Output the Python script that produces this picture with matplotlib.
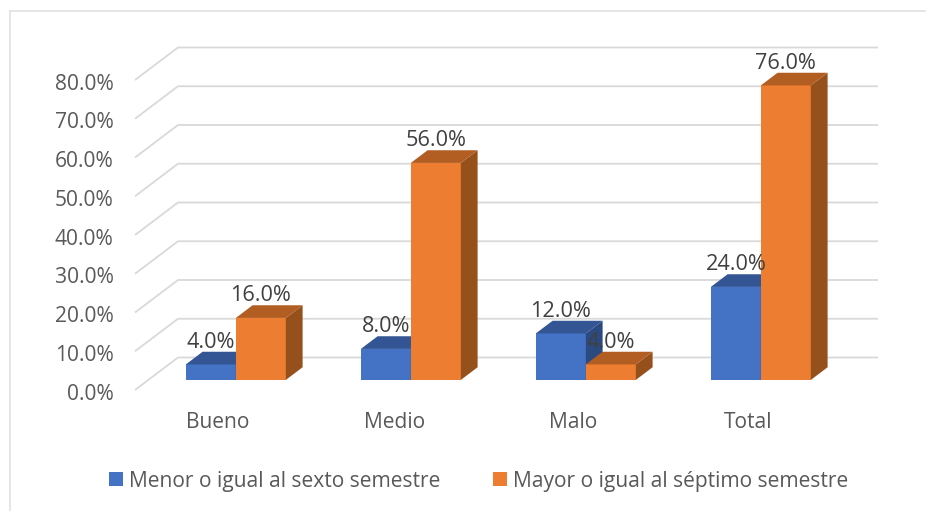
import matplotlib
matplotlib.use("Agg")
import matplotlib.pyplot as plt
from matplotlib.lines import Line2D
from matplotlib.patches import Patch, Polygon
from matplotlib.transforms import ScaledTranslation

categories = ["Bueno", "Medio", "Malo", "Total"]
menor = [4.0, 8.0, 12.0, 24.0]
mayor = [16.0, 56.0, 4.0, 76.0]
y_ticks = [0, 10, 20, 30, 40, 50, 60, 70, 80]
series_names = ["Menor o igual al sexto semestre", "Mayor o igual al séptimo semestre"]

W, H = 926, 511
FS = 15.1
plt.rcParams["font.family"] = ["Open Sans", "DejaVu Sans"]
fig = plt.figure(figsize=(W / 100, H / 100), dpi=100, facecolor="white")
ax = fig.add_axes([135 / W, (H - 390) / H, 700 / W, 310 / H])
ax.set_xlim(-0.5, 3.5)
ax.set_ylim(0, 80)
for s in ax.spines.values():
    s.set_visible(False)
ax.patch.set_alpha(0)

# oblique projection: depth 0 = front plane, 1 = back wall
DX = 43 / 175
DY = 32.5 / 3.875
BAR_D0, BAR_D = 0.31, 0.39
BAR_W = 50 / 175
GRID = "#D9D9D9"


def proj(x, y, d):
    return x + d * DX, y + d * DY


for v in y_ticks:
    xs, ys = zip(proj(-0.5, v, 0), proj(-0.5, v, 1), proj(3.5, v, 1))
    ax.plot(xs, ys, color=GRID, lw=1.3, clip_on=False, zorder=1, solid_capstyle="butt")


def bar3d(x, v, face, top, side, z):
    x0, y0 = proj(x, 0, BAR_D0)
    ax.bar(x0, v, BAR_W, bottom=y0, align="edge", color=face, lw=0, zorder=z, clip_on=False)
    corners_top = [proj(x, v, BAR_D0), proj(x + BAR_W, v, BAR_D0),
                   proj(x + BAR_W, v, BAR_D0 + BAR_D), proj(x, v, BAR_D0 + BAR_D)]
    corners_side = [proj(x + BAR_W, 0, BAR_D0), proj(x + BAR_W, v, BAR_D0),
                    proj(x + BAR_W, v, BAR_D0 + BAR_D), proj(x + BAR_W, 0, BAR_D0 + BAR_D)]
    ax.add_patch(Polygon(corners_side, closed=True, fc=side, ec="none", zorder=z, clip_on=False))
    ax.add_patch(Polygon(corners_top, closed=True, fc=top, ec="none", zorder=z, clip_on=False))


def label(x, v):
    px, _ = proj(x + BAR_W / 2, v, BAR_D0)
    _, py = proj(x, v, BAR_D0 + BAR_D)
    ax.annotate(f"{v:.1f}%", (px, py), xytext=(0, 6.8), textcoords="offset points",
                ha="center", va="center", fontsize=15.6, color="#404040", zorder=20,
                annotation_clip=False)


for i in range(len(categories)):
    bar3d(i - BAR_W, menor[i], "#4472C4", "#335593", "#2B4A80", 5 + i * 2)
    bar3d(i, mayor[i], "#ED7D31", "#B25D22", "#96501C", 6 + i * 2)
    label(i - BAR_W, menor[i])
    label(i, mayor[i])

ax.set_yticks(y_ticks)
ax.set_yticklabels([f"{v:.1f}%" for v in y_ticks], fontsize=FS, color="#595959")
ax.set_xticks(range(len(categories)))
ax.set_xticklabels(categories, fontsize=FS, color="#595959")
ax.tick_params(axis="y", length=0, pad=15.5)
ax.tick_params(axis="x", length=0, pad=16)
shift_px = [-4.5, -2.5, 0.5, 0.5]
for lab, dx in zip(ax.get_xticklabels(), shift_px):
    lab.set_transform(lab.get_transform() + ScaledTranslation(dx / 100, 0, fig.dpi_scale_trans))
for lab in ax.get_yticklabels():
    lab.set_transform(lab.get_transform() + ScaledTranslation(0, -1.5 / 100, fig.dpi_scale_trans))

# outer chart frame
frame = "#E0E0E0"
fig.add_artist(Line2D([9.5 / W, 9.5 / W], [0, (H - 11) / H], color=frame, lw=1.2))
fig.add_artist(Line2D([9.5 / W, 1], [(H - 11) / H, (H - 11) / H], color=frame, lw=1.2))

handles = [Patch(fc="#4472C4", ec="none"), Patch(fc="#ED7D31", ec="none")]
fig.legend(handles, series_names, ncol=2, loc="center left",
           bbox_to_anchor=(109 / W, (H - 481) / H), frameon=False, borderpad=0, borderaxespad=0,
           fontsize=FS, labelcolor="#595959", handlelength=0.67, handleheight=0.67,
           handletextpad=0.29, columnspacing=2.5)

fig.savefig("out.png", dpi=100)
